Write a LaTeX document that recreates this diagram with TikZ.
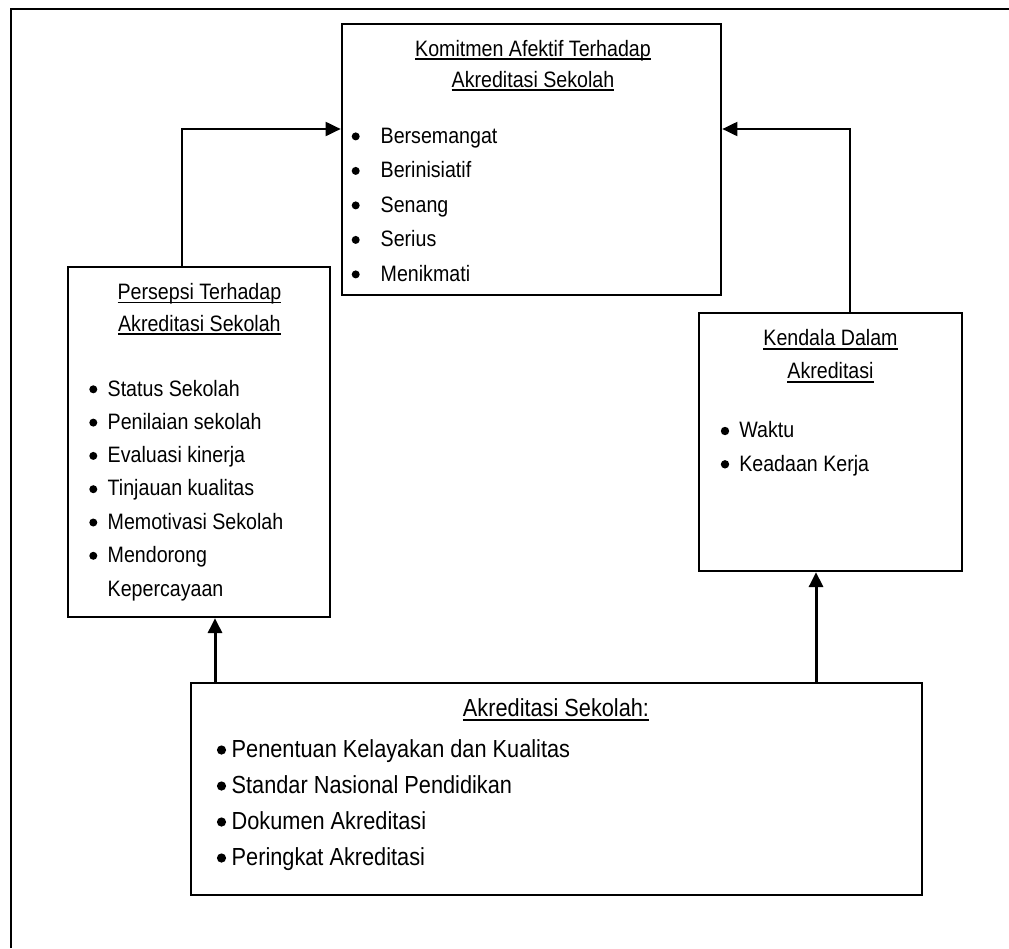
\documentclass[tikz,border=0pt]{standalone}
\usepackage{fontspec}
\setmainfont{Liberation Sans}[FakeStretch=0.88]
\usetikzlibrary{arrows.meta}
\newcommand{\ulx}[2][4pt]{\setbox0=\hbox{#2}\rlap{\rule[-#1]{\wd0}{1.6pt}}\box0}
\tikzset{
  box/.style={draw, line width=2.2pt, rectangle, inner sep=0pt},
  txt/.style={inner sep=0pt, outer sep=0pt, font=\fontsize{22.3pt}{26pt}\selectfont},
  txtb/.style={inner sep=0pt, outer sep=0pt, font=\fontsize{24.7pt}{29pt}\selectfont},
  conn/.style={line width=2pt, -{Triangle[length=15pt,width=14pt]}},
  connv/.style={line width=3pt, -{Triangle[length=15pt,width=14pt]}},
  frame/.style={line width=2.4pt},
}
\begin{document}
\begin{tikzpicture}[x=1pt,y=-1pt]
\useasboundingbox (0,0) rectangle (1009,948);
% outer frame (left and top edges)
\coordinate (fA) at (11,948);
\coordinate (fB) at (11,9);
\coordinate (fC) at (1009,9);
\draw[frame] (fA) -- (fB) -- (fC);

% boxes
\node[box, minimum width=379.5pt, minimum height=271pt] (tb) at (531.5,159.5) {};
\node[box, minimum width=262pt, minimum height=350pt] (lb) at (199,442) {};
\node[box, minimum width=263pt, minimum height=258pt] (rb) at (830.5,442) {};
\node[box, minimum width=731pt, minimum height=212pt] (bb) at (556.5,789) {};

% top box text
\node[txt, anchor=base] (tbt1) at (533,56) {\ulx{Komitmen Afektif Terhadap}};
\node[txt, anchor=base] (tbt2) at (533,87) {\ulx{Akreditasi Sekolah}};
\foreach \t [count=\i from 0] in {Bersemangat,Berinisiatif,Senang,Serius,Menikmati}{
  \node[txt, anchor=base west] (tbi\i) at (380.7,143+34.5*\i) {\t};
  \fill (355.7,136.4+34.5*\i) circle (4pt);
}

% left box text
\node[txt, anchor=base] (lbt1) at (199.4,299.3) {\ulx{Persepsi Terhadap}};
\node[txt, anchor=base] (lbt2) at (199.4,331) {\ulx{Akreditasi Sekolah}};
\foreach \t [count=\i from 0] in {Status Sekolah,Penilaian sekolah,Evaluasi kinerja,Tinjauan kualitas,Memotivasi Sekolah,Mendorong}{
  \node[txt, anchor=base west] (lbi\i) at (107.7,396+33.3*\i) {\t};
  \fill (93.3,389.3+33.3*\i) circle (4pt);
}
\node[txt, anchor=base west] (lbi6) at (107.7,596) {Kepercayaan};

% right box text
\node[txt, anchor=base] (rbt1) at (830.5,345.7) {\ulx{Kendala Dalam}};
\node[txt, anchor=base] (rbt2) at (830.5,378.5) {\ulx{Akreditasi}};
\node[txt, anchor=base west] (rbi0) at (739.3,437.7) {Waktu};
\fill (725,431) circle (4.2pt);
\node[txt, anchor=base west] (rbi1) at (739.3,471) {Keadaan Kerja};
\fill (725,464.3) circle (4.2pt);

% bottom box text
\node[txtb, anchor=base] (bbt) at (556,716) {\ulx[5pt]{Akreditasi Sekolah:}};
\foreach \t [count=\i from 0] in {Penentuan Kelayakan dan Kualitas,Standar Nasional Pendidikan,Dokumen Akreditasi,Peringkat Akreditasi}{
  \node[txtb, anchor=base west] (bbi\i) at (231.7,757+36*\i) {\t};
  \fill (221.5,750+36*\i) circle (4.6pt);
}

% connectors
\coordinate (kL) at (182,129);
\coordinate (kR) at (850,129);
\coordinate (kB1) at (215,0);
\coordinate (kB2) at (816,0);
\draw[conn] (lb.north -| kL) |- (tb.west |- kL);
\draw[conn] (rb.north -| kR) |- (tb.east |- kR);
\draw[connv] (bb.north -| kB1) -- (lb.south -| kB1);
\draw[connv] (bb.north -| kB2) -- (rb.south -| kB2);
\end{tikzpicture}
\end{document}
